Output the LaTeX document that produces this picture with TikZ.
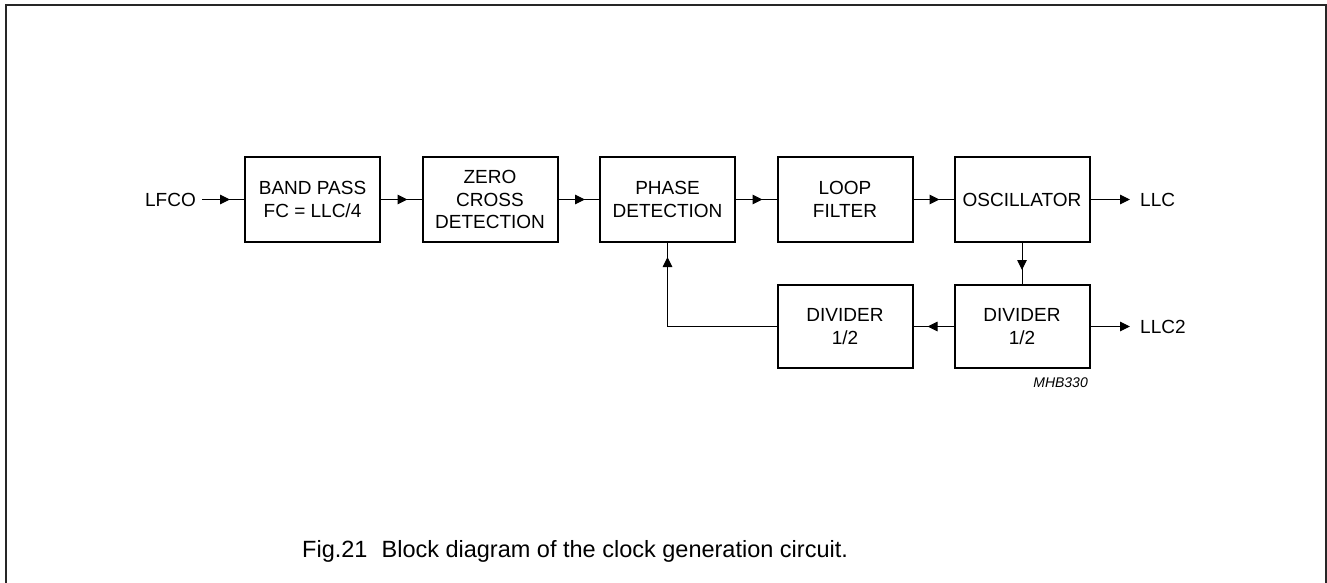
\documentclass[tikz,border=0pt]{standalone}
\usepackage{fontspec}
\setmainfont{Liberation Sans}
\usetikzlibrary{arrows.meta,decorations.markings}
\begin{document}
\begin{tikzpicture}[x=1pt,y=-1pt,
  blk/.style={draw,line width=2pt,minimum width=135pt,minimum height=85pt,inner sep=0pt,align=center,font=\fontsize{19}{22.5}\selectfont},
  lbl/.style={inner sep=0pt,font=\fontsize{19}{22.5}\selectfont},
  conn/.style={line width=1pt,postaction={decorate},decoration={markings,mark=at position -14pt with {\arrow{Triangle[length=10pt,width=9.5pt]}}}},
  outarr/.style={line width=1pt,-{Triangle[length=10pt,width=9.5pt]}}]
\useasboundingbox (0,0) rectangle (1327,582);
\draw[line width=2pt,black!85] (6,590) -- (6,5) -- (1326,5) -- (1326,590);
\node[blk] (bp) at (312.5,199.5) {BAND PASS\\FC = LLC/4};
\node[blk] (zc) at (490,199.5) {ZERO\\CROSS\\DETECTION};
\node[blk] (pd) at (667.5,199.5) {PHASE\\DETECTION};
\node[blk] (lf) at (845,199.5) {LOOP\\FILTER};
\node[blk] (osc) at (1022,199.5) {OSCILLATOR};
\node[blk,minimum height=83pt] (d1) at (845,326.5) {DIVIDER\\1/2};
\node[blk,minimum height=83pt] (d2) at (1022,326.5) {DIVIDER\\1/2};
\node[lbl,anchor=east] (lfco) at (196,199.5) {LFCO};
\coordinate (llcend) at (1130,199.5);
\coordinate (llc2end) at (1130,326.5);
\node[lbl,anchor=west] (llc) at (1140,199.5) {LLC};
\node[lbl,anchor=west] (llc2) at (1140,326.5) {LLC2};
\node[inner sep=0pt,anchor=east,font=\fontsize{14}{16}\selectfont\itshape] (mhb) at (1088,383) {MHB330};
\node[lbl,anchor=base west,font=\fontsize{23.5}{27}\selectfont] (cap) at (302,557) {Fig.21\hspace{0.6em}Block diagram of the clock generation circuit.};
\draw[conn] ([xshift=6pt]lfco.east) -- (bp.west);
\draw[conn] (bp.east) -- (zc.west);
\draw[conn] (zc.east) -- (pd.west);
\draw[conn] (pd.east) -- (lf.west);
\draw[conn] (lf.east) -- (osc.west);
\draw[outarr] (osc.east) -- (llcend);
\draw[outarr] (d2.east) -- (llc2end);
\draw[conn] (osc.south) -- (d2.north);
\draw[conn] (d2.west) -- (d1.east);
\draw[conn] (d1.west) -| (pd.south);
\end{tikzpicture}
\end{document}
